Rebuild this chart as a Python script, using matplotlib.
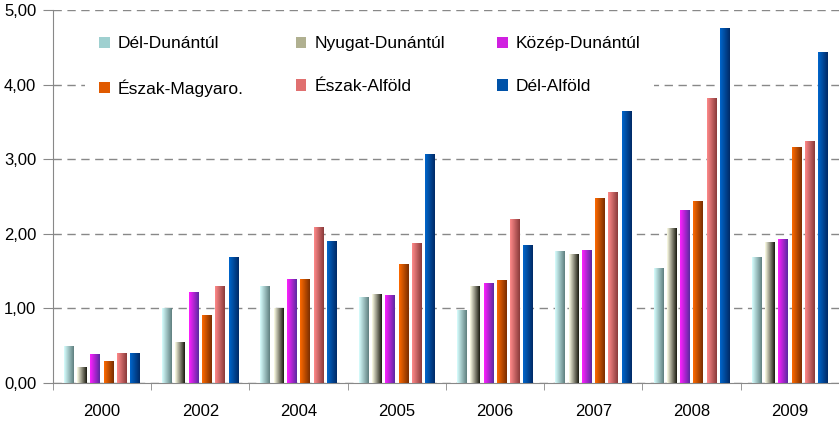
import numpy as np
import matplotlib.pyplot as plt
from matplotlib.colors import LinearSegmentedColormap
from matplotlib.patches import Patch

plt.rcParams['font.family'] = ['Liberation Sans', 'DejaVu Sans']

# Data
years = ["2000", "2002", "2004", "2005", "2006", "2007", "2008", "2009"]
regions = ["Dél-Dunántúl", "Nyugat-Dunántúl", "Közép-Dunántúl",
           "Észak-Magyaro.", "Észak-Alföld", "Dél-Alföld"]
y_ticks = [0, 1, 2, 3, 4, 5]
y_tick_labels = ["0,00", "1,00", "2,00", "3,00", "4,00", "5,00"]

del_dunantul = [0.49, 1.00, 1.30, 1.15, 0.97, 1.77, 1.54, 1.68]
nyugat_dunantul = [0.21, 0.55, 1.00, 1.19, 1.30, 1.73, 2.07, 1.89]
kozep_dunantul = [0.38, 1.22, 1.39, 1.17, 1.34, 1.78, 2.31, 1.93]
eszak_magyaro = [0.29, 0.90, 1.39, 1.59, 1.38, 2.48, 2.44, 3.16]
eszak_alfold = [0.40, 1.30, 2.09, 1.87, 2.20, 2.56, 3.82, 3.24]
del_alfold = [0.40, 1.69, 1.90, 3.07, 1.85, 3.64, 4.75, 4.44]

series = [del_dunantul, nyugat_dunantul, kozep_dunantul,
          eszak_magyaro, eszak_alfold, del_alfold]

# (light edge, dark edge) of each bar's shading, and legend swatch colour
shades = [("#d8ffff", "#5f7f7f"),
          ("#ffffe8", "#1a1a10"),
          ("#ff20ff", "#5a2aa0"),
          ("#ff6a00", "#7a2e00"),
          ("#ff8a8a", "#8a3a3a"),
          ("#0066cc", "#002a66")]
swatch = ["#9fd0d0", "#b0b090", "#d020e0", "#e05a00", "#e07070", "#0052a8"]

fig = plt.figure(figsize=(8.39, 4.23), dpi=100)
ax = fig.add_axes([0.063, 0.095, 0.937, 0.881])

n = len(series)
width = 0.1
step = 0.135
x = np.arange(len(years))
grad = np.linspace(0, 1, 64).reshape(1, -1)

for i, vals in enumerate(series):
    cmap = LinearSegmentedColormap.from_list("s%d" % i, shades[i])
    offs = x + (i - (n - 1) / 2) * step
    for xc, v in zip(offs, vals):
        ax.imshow(grad, cmap=cmap, aspect="auto", zorder=3,
                  extent=[xc - width / 2, xc + width / 2, 0, v],
                  interpolation="bilinear")

ax.set_xlim(-0.5, len(years) - 0.5)
ax.set_ylim(0, 5)

ax.set_yticks(y_ticks)
ax.set_yticklabels(y_tick_labels)
ax.set_xticks(x)
ax.set_xticklabels(years)
ax.set_xticks(np.arange(-0.5, len(years), 1), minor=True)
ax.tick_params(axis="x", which="major", length=0, pad=15, labelsize=12)
ax.tick_params(axis="x", which="minor", length=5, color="#888888", direction="out")
ax.tick_params(axis="y", length=7, pad=5, color="#888888", labelsize=12)

ax.yaxis.grid(True, linestyle=(0, (6, 4)), color="#888888", linewidth=1, zorder=0)
ax.set_axisbelow(True)
for s in ["top", "right"]:
    ax.spines[s].set_visible(False)
for s in ["left", "bottom"]:
    ax.spines[s].set_color("#888888")

# legend fills column by column, so reorder to read row by row
order = [0, 3, 1, 4, 2, 5]
handles = [Patch(facecolor=swatch[k], edgecolor="none") for k in order]
labels = [regions[k] for k in order]
leg = ax.legend(handles, labels, ncol=3, loc="upper left",
                bbox_to_anchor=(0.03, 0.99), frameon=True, fontsize=12.5,
                handlelength=0.62, handleheight=0.62, handletextpad=0.45,
                columnspacing=3.0, labelspacing=1.6, borderpad=0.8,
                fancybox=False)
leg.get_frame().set_edgecolor("none")
leg.get_frame().set_facecolor("white")
leg.get_frame().set_alpha(1)
leg.set_zorder(2)

fig.savefig("out.png", dpi=100)
